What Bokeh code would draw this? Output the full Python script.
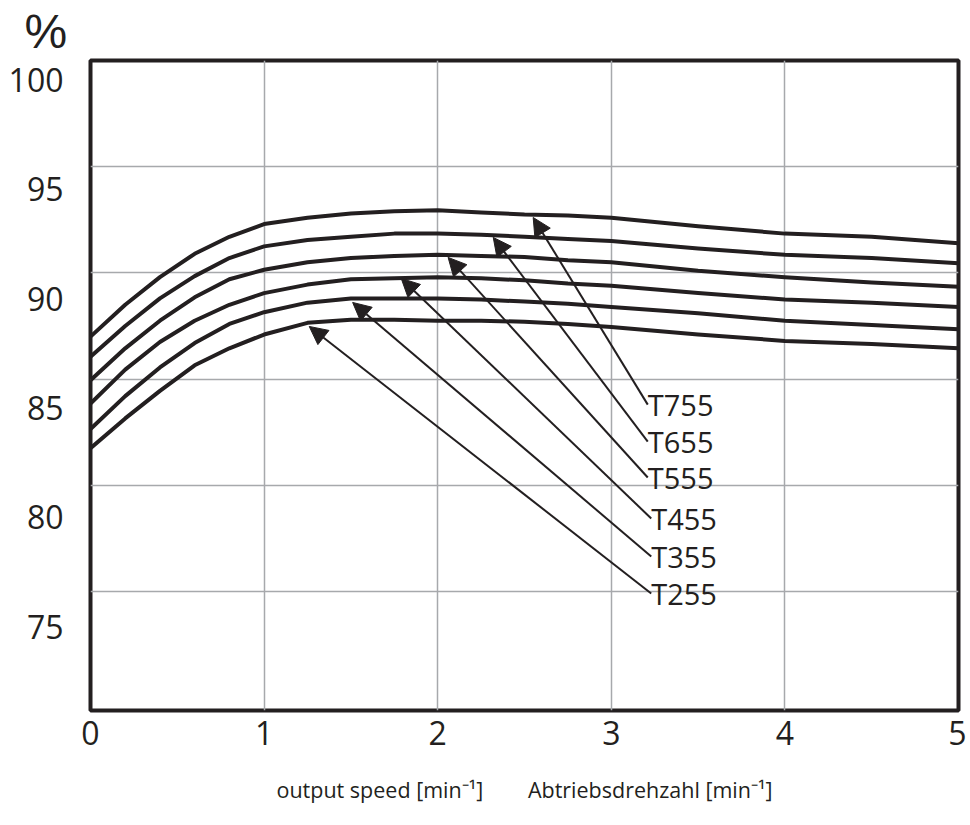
from bokeh.plotting import figure
from bokeh.models import ColumnDataSource, Range1d, FixedTicker, Grid, Arrow, NormalHead
from bokeh.core.properties import value
from bokeh.embed import file_html
from bokeh.resources import INLINE

# ---- data ----
speed = [0.0, 0.2, 0.4, 0.6, 0.8, 1.0, 1.25, 1.5, 1.75, 2.0, 2.25, 2.5, 2.75, 3.0, 3.5, 4.0, 4.5, 5.0]
eff_T755 = [87.0, 88.5, 89.8, 90.9, 91.7, 92.3, 92.6, 92.8, 92.9, 92.95, 92.85, 92.75, 92.7, 92.6, 92.2, 91.85, 91.7, 91.4]
eff_T655 = [86.05, 87.5, 88.8, 89.85, 90.7, 91.25, 91.55, 91.7, 91.85, 91.85, 91.8, 91.7, 91.6, 91.5, 91.15, 90.85, 90.7, 90.45]
eff_T555 = [84.95, 86.45, 87.75, 88.85, 89.7, 90.15, 90.5, 90.7, 90.8, 90.85, 90.8, 90.75, 90.6, 90.5, 90.1, 89.8, 89.55, 89.35]
eff_T455 = [83.85, 85.45, 86.75, 87.75, 88.5, 89.05, 89.45, 89.7, 89.75, 89.8, 89.75, 89.65, 89.5, 89.4, 89.05, 88.75, 88.6, 88.4]
eff_T355 = [82.65, 84.2, 85.55, 86.7, 87.6, 88.15, 88.6, 88.8, 88.8, 88.8, 88.75, 88.65, 88.55, 88.4, 88.1, 87.75, 87.55, 87.35]
eff_T255 = [81.75, 83.15, 84.45, 85.65, 86.45, 87.1, 87.65, 87.8, 87.8, 87.75, 87.75, 87.7, 87.6, 87.45, 87.1, 86.8, 86.65, 86.45]

series_names = ["T755", "T655", "T555", "T455", "T355", "T255"]
series_values = [eff_T755, eff_T655, eff_T555, eff_T455, eff_T355, eff_T255]

# arrow tips on the curves and label anchors (data units)
arrow_tip_x = [2.55, 2.32, 2.06, 1.79, 1.51, 1.26]
arrow_tip_y = [92.61, 91.67, 90.73, 89.74, 88.61, 87.48]
label_x = [3.21, 3.21, 3.21, 3.23, 3.23, 3.23]
label_y = [83.80, 82.06, 80.37, 78.44, 76.65, 74.91]

x_ticks = [0, 1, 2, 3, 4, 5]
y_ticks = [75, 80, 85, 90, 95, 100]

x_title = "output speed [min\u207b\u00b9]\u00a0\u00a0\u00a0\u00a0\u00a0\u00a0\u00a0\u00a0Abtriebsdrehzahl [min\u207b\u00b9]"
y_unit = "%"

INK = "#231f20"
FONT = "Open Sans"

p = figure(width=966, height=815, x_range=Range1d(0, 5), y_range=Range1d(69.4, 100.0),
           output_backend="svg", toolbar_location=None, title=y_unit,
           min_border_left=90, min_border_right=8, min_border_top=60, min_border_bottom=105)
p.background_fill_color = "white"
p.border_fill_color = "white"
p.outline_line_color = INK
p.outline_line_width = 4

# unit shown above the y axis
p.title.align = "left"
p.title.offset = -66
p.title.standoff = 5
p.title.text_font = "Liberation Sans"
p.title.text_font_size = "48px"
p.title.text_font_style = "normal"
p.title.text_color = INK

p.extra_y_ranges = {"labels": Range1d(71.16, 100.89)}

# axes
p.xaxis.ticker = FixedTicker(ticks=x_ticks)
p.yaxis.ticker = FixedTicker(ticks=y_ticks)
p.yaxis.y_range_name = "labels"
for ax in (p.xaxis, p.yaxis):
    ax.axis_line_color = None
    ax.major_tick_line_color = None
    ax.minor_tick_line_color = None
    ax.major_tick_out = 0
    ax.major_tick_in = 0
    ax.minor_tick_out = 0
    ax.major_label_text_font = FONT
    ax.major_label_text_font_size = "32px"
    ax.major_label_text_color = INK
p.yaxis.major_label_standoff = 27
p.xaxis.major_label_standoff = 10
p.xaxis.axis_label = x_title
p.xaxis.axis_label_text_font = FONT
p.xaxis.axis_label_text_font_size = "21.5px"
p.xaxis.axis_label_text_font_style = "normal"
p.xaxis.axis_label_text_color = INK
p.xaxis.axis_label_standoff = 27

# grids
p.xgrid.grid_line_color = "#a7a9ac"
p.xgrid.grid_line_width = 1.5
p.ygrid.visible = False
p.add_layout(Grid(dimension=1, ticker=FixedTicker(ticks=y_ticks),
                  grid_line_color="#a7a9ac", grid_line_width=1.5))

# curves
for vals in series_values:
    p.line(speed, vals, line_width=4, line_color=INK, line_join="round", line_cap="butt")

# arrows
arrows = ColumnDataSource(dict(x0=label_x, y0=label_y, x1=arrow_tip_x, y1=arrow_tip_y))
p.add_layout(Arrow(end=NormalHead(size=18, fill_color=INK, line_color=INK, line_width=1),
                   x_start="x0", y_start="y0", x_end="x1", y_end="y1", source=arrows,
                   line_width=2, line_color=INK))

# series labels
p.text(x=label_x, y=label_y, text=series_names, text_font=value(FONT), text_font_size="29px",
       text_align="left", text_baseline="middle", text_color=INK)

open("out.html", "w").write(file_html(p, INLINE))
